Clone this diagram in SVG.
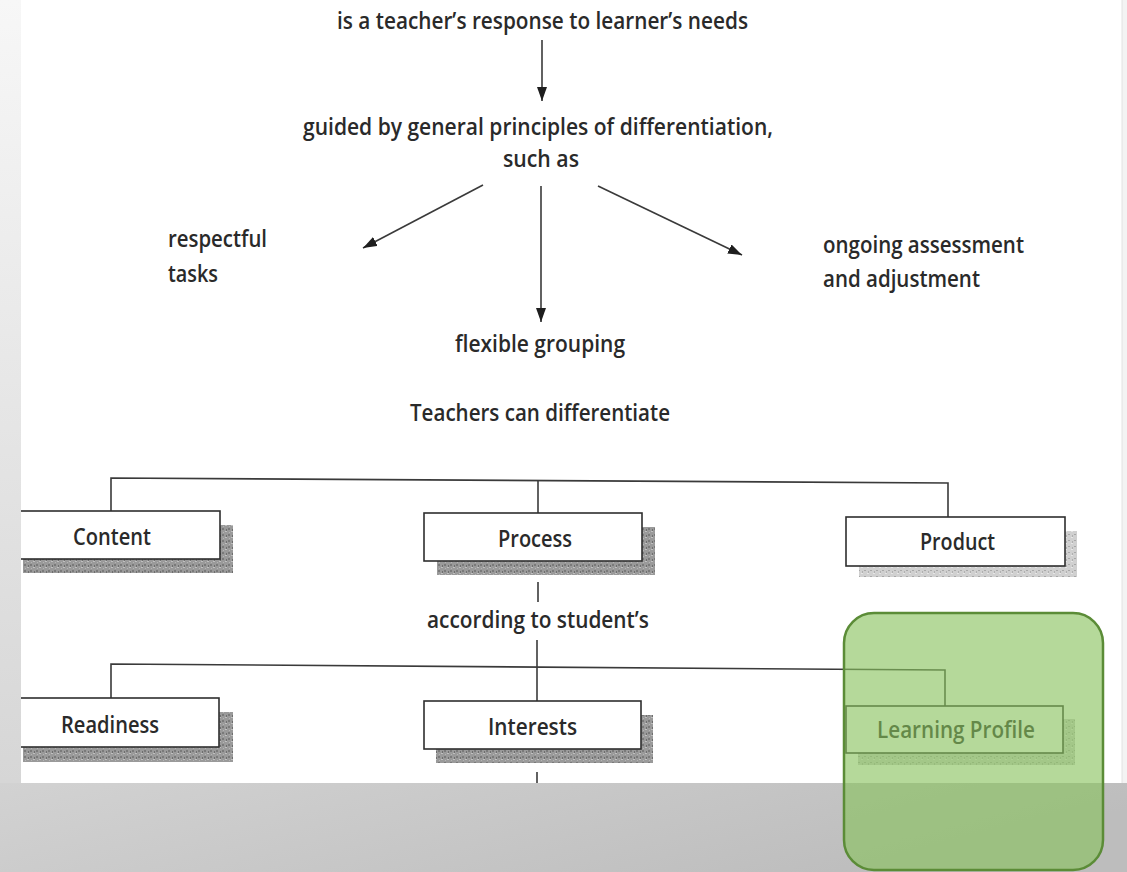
<svg xmlns="http://www.w3.org/2000/svg" width="1127" height="872" viewBox="0 0 1127 872">
<defs>
<linearGradient id="strip" x1="0" y1="0" x2="0" y2="1">
<stop offset="0" stop-color="#f7f7f7"/>
<stop offset="1" stop-color="#d6d6d6"/>
</linearGradient>
<linearGradient id="floor" x1="0" y1="0" x2="1" y2="0.3">
<stop offset="0" stop-color="#d2d2d2"/>
<stop offset="1" stop-color="#bdbdbd"/>
</linearGradient>
<pattern id="speck" width="6" height="6" patternUnits="userSpaceOnUse">
<rect width="6" height="6" fill="#9a9a9a"/>
<rect x="0" y="0" width="2" height="2" fill="#7a7a7a"/>
<rect x="3" y="3" width="2" height="1" fill="#c0c0c0"/>
<rect x="4" y="1" width="1" height="2" fill="#6e6e6e"/>
<rect x="1" y="4" width="1" height="1" fill="#b5b5b5"/>
</pattern>
<pattern id="speckLight" width="6" height="6" patternUnits="userSpaceOnUse">
<rect width="6" height="6" fill="#d0d0d0"/>
<rect x="0" y="0" width="2" height="1" fill="#a8a8a8"/>
<rect x="3" y="3" width="2" height="1" fill="#e6e6e6"/>
<rect x="4" y="1" width="1" height="2" fill="#b0b0b0"/>
</pattern>
<marker id="ah" viewBox="0 0 14 10" refX="14" refY="5" markerWidth="14" markerHeight="10" markerUnits="userSpaceOnUse" orient="auto">
<path d="M0,0 L14,5 L0,10 Z" fill="#1e1e1e"/>
</marker>
<style>
.t{font-family:"Open Sans","Noto Sans","Liberation Sans",sans-serif;font-size:23px;font-weight:600;fill:#2a2a2a}
.c{stroke:#3a3a3a;stroke-width:1.6;fill:none}
.box{fill:#ffffff;stroke:#2e2e2e;stroke-width:1.6}
.sh{fill:url(#speck)}
.shl{fill:url(#speckLight)}
</style>
</defs>
<rect width="1127" height="872" fill="#ffffff"/>

<g id="connectors">
<line class="c" x1="542" y1="40" x2="542" y2="101" marker-end="url(#ah)"/>
<line class="c" x1="483" y1="185" x2="363" y2="248" marker-end="url(#ah)"/>
<line class="c" x1="541" y1="186" x2="541" y2="322" marker-end="url(#ah)"/>
<line class="c" x1="598" y1="186" x2="742" y2="255" marker-end="url(#ah)"/>
<polyline class="c" points="111,511 111,478 948,483 948,517"/>
<line class="c" x1="538" y1="480" x2="538" y2="513"/>
<line class="c" x1="538" y1="582" x2="538" y2="602"/>
<line class="c" x1="537" y1="640" x2="537" y2="701"/>
<polyline class="c" points="111,698 111,664 945,670 945,706"/>
<line class="c" x1="537" y1="772" x2="537" y2="783"/>
</g>

<g id="text-response"><text class="t" x="337" y="29" textLength="411" lengthAdjust="spacingAndGlyphs">is a teacher’s response to learner’s needs</text></g>
<g id="text-guided">
<text class="t" x="303" y="135" textLength="470" lengthAdjust="spacingAndGlyphs">guided by general principles of differentiation,</text>
<text class="t" x="503" y="167" textLength="76" lengthAdjust="spacingAndGlyphs">such as</text>
</g>
<g id="text-respectful">
<text class="t" x="168" y="247" textLength="99" lengthAdjust="spacingAndGlyphs">respectful</text>
<text class="t" x="168" y="282" textLength="50" lengthAdjust="spacingAndGlyphs">tasks</text>
</g>
<g id="text-ongoing">
<text class="t" x="823" y="253" textLength="201" lengthAdjust="spacingAndGlyphs">ongoing assessment</text>
<text class="t" x="823" y="287" textLength="157" lengthAdjust="spacingAndGlyphs">and adjustment</text>
</g>
<g id="text-flexible"><text class="t" x="455" y="352" textLength="170" lengthAdjust="spacingAndGlyphs">flexible grouping</text></g>
<g id="text-teachers"><text class="t" x="410" y="421" textLength="260" lengthAdjust="spacingAndGlyphs">Teachers can differentiate</text></g>

<g id="node-content">
<rect class="sh" x="23" y="525" width="210" height="48"/>
<rect class="box" x="8" y="511" width="212" height="48"/>
<text class="t" x="73" y="545" textLength="78" lengthAdjust="spacingAndGlyphs">Content</text>
</g>
<g id="node-process">
<rect class="sh" x="437" y="527" width="218" height="48"/>
<rect class="box" x="424" y="513" width="218" height="48"/>
<text class="t" x="498" y="547" textLength="74" lengthAdjust="spacingAndGlyphs">Process</text>
</g>
<g id="node-product">
<rect class="shl" x="859" y="531" width="218" height="46"/>
<rect class="box" x="846" y="517" width="219" height="49"/>
<text class="t" x="920" y="550" textLength="75" lengthAdjust="spacingAndGlyphs">Product</text>
</g>
<g id="text-according"><text class="t" x="427" y="628" textLength="222" lengthAdjust="spacingAndGlyphs">according to student’s</text></g>
<g id="node-readiness">
<rect class="sh" x="23" y="712" width="210" height="50"/>
<rect class="box" x="8" y="698" width="211" height="49"/>
<text class="t" x="61" y="733" textLength="98" lengthAdjust="spacingAndGlyphs">Readiness</text>
</g>
<g id="node-interests">
<rect class="sh" x="436" y="715" width="217" height="48"/>
<rect class="box" x="424" y="701" width="217" height="48"/>
<text class="t" x="488" y="735" textLength="89" lengthAdjust="spacingAndGlyphs">Interests</text>
</g>
<g id="node-learning-profile">
<rect class="shl" x="858" y="719" width="217" height="46"/>
<rect class="box" x="846" y="706" width="217" height="47"/>
<text class="t" x="877" y="738" textLength="158" lengthAdjust="spacingAndGlyphs">Learning Profile</text>
</g>

<g id="frame">
<rect x="0" y="0" width="21" height="783" fill="url(#strip)"/>
<rect x="1122" y="0" width="5" height="783" fill="#f3f3f3"/>
<line x1="1122" y1="0" x2="1122" y2="783" stroke="#e2e2e2" stroke-width="1"/>
<rect x="0" y="783" width="1127" height="89" fill="url(#floor)"/>
</g>

<g id="highlight">
<rect x="844" y="613" width="259" height="257" rx="30" ry="30" fill="#88c25c" fill-opacity="0.62" stroke="#5b8c37" stroke-width="2.5"/>
</g>
</svg>
